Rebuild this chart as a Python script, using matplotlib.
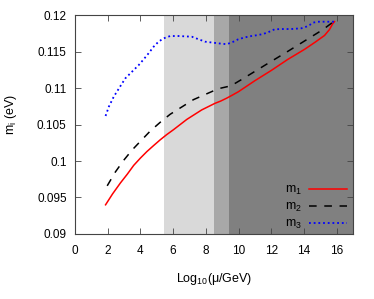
import numpy as np
import matplotlib.pyplot as plt

plt.rcParams['font.family'] = ['Liberation Sans', 'DejaVu Sans']
plt.rcParams['mathtext.fontset'] = 'custom'
plt.rcParams['mathtext.rm'] = 'Liberation Sans'
plt.rcParams['mathtext.it'] = 'Liberation Sans'

# RG running of light neutrino masses
x_m1 = [1.87, 2.3, 2.78, 3.2, 3.59, 4.0, 4.40, 4.8, 5.21, 5.6, 6.03, 6.84,
        7.75, 8.2, 8.56, 8.9, 9.27, 9.6, 10.0, 11.0, 12.0, 13.0, 14.04, 14.7,
        15.26, 15.56, 15.76, 15.87]
m1 = [0.0940, 0.0955, 0.0970, 0.0982, 0.0994, 0.1004, 0.1013, 0.1021, 0.1029,
      0.1036, 0.1043, 0.1057, 0.1070, 0.1075, 0.1079, 0.1082, 0.1086, 0.1090,
      0.1095, 0.1110, 0.1124, 0.1139, 0.1153, 0.1163, 0.1172, 0.1180, 0.1188,
      0.1191]

x_m2 = [1.97, 2.47, 2.98, 3.49, 4.0, 4.6, 5.21, 5.82, 6.53, 7.24, 8.05, 8.76,
        9.54, 10.29, 11.6, 13.0, 14.44, 15.16, 15.76]
m2 = [0.0966, 0.0985, 0.1001, 0.1015, 0.1027, 0.1041, 0.1053, 0.1064, 0.1074,
      0.1084, 0.1092, 0.1099, 0.1103, 0.1113, 0.1131, 0.1150, 0.1170, 0.1180,
      0.1190]

x_m3 = [1.87, 2.07, 2.37, 2.78, 3.08, 3.49, 3.90, 4.20, 4.50, 4.81, 5.11, 5.42,
        5.82, 6.33, 7.14, 7.95, 8.76, 9.27, 9.6, 9.98, 10.39, 10.79, 11.20,
        11.50, 11.81, 12.01, 12.21, 12.62, 13.23, 13.84, 14.14, 14.35, 14.55,
        14.85, 15.96]
m3 = [0.10617, 0.10744, 0.10881, 0.11027, 0.11133, 0.11224, 0.11315, 0.11393,
      0.11475, 0.11566, 0.11635, 0.11680, 0.11712, 0.11712, 0.11703, 0.11635,
      0.11612, 0.11600, 0.11625, 0.11667, 0.11694, 0.11712, 0.11726, 0.11740,
      0.11763, 0.11785, 0.11804, 0.11808, 0.11808, 0.11818, 0.11840, 0.11863,
      0.11895, 0.11908, 0.11908]

# shaded scale bands
bands = [(5.42, 8.5, '#d9d9d9'), (8.5, 9.42, '#a8a8a8'), (9.42, 17.0, '#808080')]

fig = plt.figure(figsize=(3.74, 2.99), dpi=100)
ax = fig.add_axes([0.2005, 0.2174, 0.7433, 0.7324])

for lo, hi, c in bands:
    ax.axvspan(lo, hi, color=c, lw=0, zorder=0)

ax.plot(x_m1, m1, color='#ff0000', lw=1.1, label=r'm$_1$')
ax.plot(x_m2, m2, color='black', lw=1.1, dashes=(5, 5), label=r'm$_2$')
ax.plot(x_m3, m3, color='#0000ff', lw=1.3, dashes=(1, 1.6), label=r'm$_3$')

ax.set_xlim(0, 17)
ax.set_ylim(0.09, 0.12)
ax.set_xticks(np.arange(0, 17, 2))
ax.set_yticks([0.09, 0.095, 0.1, 0.105, 0.11, 0.115, 0.12])
ax.set_yticklabels(['0.09', '0.095', '0.1', '0.105', '0.11', '0.115', '0.12'])
ax.tick_params(direction='in', top=True, right=True, length=4, width=0.6,
               labelsize=8.5, color='#444444')
ax.tick_params(axis='x', pad=8)
ax.tick_params(axis='y', pad=6)
for s in ax.spines.values():
    s.set_linewidth(0.8)
    s.set_color('#444444')

ax.set_xlabel('Log$_{10}$(μ/GeV)', fontsize=9, labelpad=10)
ax.set_ylabel(r'm$_{\rm i}$ (eV)', fontsize=9)
ax.yaxis.set_label_coords(-0.2, 0.546)

ax.legend(loc='lower right', bbox_to_anchor=(1.0, -0.015), frameon=False,
          markerfirst=False, fontsize=9, handlelength=3.0, handletextpad=0.6,
          labelspacing=0.3, borderaxespad=0.1)

fig.savefig('out.png', dpi=100)
